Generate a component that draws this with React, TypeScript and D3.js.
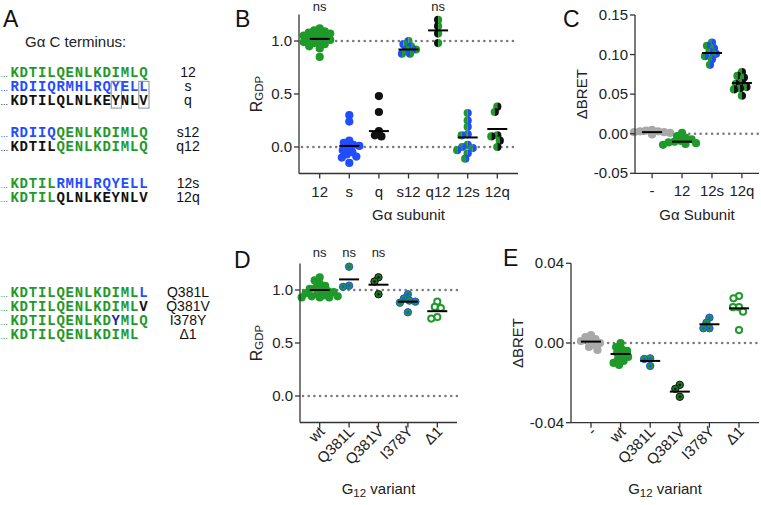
import React from "react";
import * as d3 from "d3";

const GREEN = "#1f9a2a";
const DKGREEN = "#17781f";
const BLUE = "#1f4dff";
const NAVY = "#1a2a9c";
const BLACK = "#111";
const GRAY = "#a8a8a8";
const SANS = "'Liberation Sans', Arial, sans-serif";
const MONO = "'Liberation Mono', 'Courier New', monospace";

// ---- panel A: C-terminal sequences ----
const seqGroups = [
  [
    { label: "12", dots: "g", parts: [["KDTILQENLKDIMLQ", "g"]] },
    { label: "s", dots: "b", parts: [["RDIIQRMHLRQYELL", "b"]] },
    { label: "q", dots: "k", parts: [["KDTILQLNLKEYNLV", "k"]] },
  ],
  [
    { label: "s12", dots: "b", parts: [["RDIIQ", "b"], ["QENLKDIMLQ", "g"]] },
    { label: "q12", dots: "k", parts: [["KDTIL", "k"], ["QENLKDIMLQ", "g"]] },
  ],
  [
    { label: "12s", dots: "g", parts: [["KDTIL", "g"], ["RMHLRQYELL", "b"]] },
    { label: "12q", dots: "g", parts: [["KDTIL", "g"], ["QLNLKEYNLV", "k"]] },
  ],
  [
    { label: "Q381L", dots: "g", parts: [["KDTILQENLKDIML", "g"], ["L", "b"]] },
    { label: "Q381V", dots: "g", parts: [["KDTILQENLKDIML", "g"], ["V", "k"]] },
    { label: "I378Y", dots: "g", parts: [["KDTILQENLKD", "g"], ["Y", "n"], ["MLQ", "g"]] },
    { label: "Δ1", dots: "g", parts: [["KDTILQENLKDIML", "g"]] },
  ],
];
const boxedColumns = [11, 14];
const seqColor: Record<string, string> = { g: GREEN, b: BLUE, k: BLACK, n: NAVY };

// ---- panel B ----
const bCats = ["12", "s", "q", "s12", "q12", "12s", "12q"];
const bValues = [
  [1.12, 1.1, 1.09, 1.08, 1.07, 1.06, 1.05, 1.04, 1.03, 1.02, 1.01, 1.0, 0.99, 0.98, 0.97, 0.95, 0.93, 0.85],
  [0.3, 0.24, 0.06, 0.04, 0.02, 0.01, -0.01, -0.03, -0.05, -0.07, -0.09, -0.1, -0.15],
  [0.48, 0.33, 0.15, 0.11, 0.1],
  [1.0, 0.97, 0.95, 0.92, 0.92, 0.88, 0.88],
  [1.2, 1.14, 1.07, 0.98],
  [0.32, 0.25, 0.19, 0.12, 0.11, 0.02, 0.0, -0.01, -0.03, -0.06, -0.11],
  [0.38, 0.33, 0.11, 0.1, 0.06, 0.0],
];
const bLines = [1.02, 0.01, 0.15, 0.92, 1.1, 0.09, 0.17];
const bNs = ["12", "q12"];
const bTicks = [0, 0.5, 1.0];

// ---- panel C ----
const cCats = ["-", "12", "12s", "12q"];
const cValues = [
  [0.005, 0.004, 0.003, 0.003, 0.002, 0.002, 0.001, 0.001, 0.0, -0.001],
  [0.001, -0.003, -0.005, -0.007, -0.009, -0.01, -0.011, -0.012, -0.013, -0.014],
  [0.115, 0.111, 0.108, 0.103, 0.101, 0.098, 0.094, 0.087],
  [0.078, 0.073, 0.071, 0.064, 0.063, 0.059, 0.057, 0.056, 0.048],
];
const cLines = [0.002, -0.01, 0.102, 0.064];
const cTicks = [-0.05, 0, 0.05, 0.1, 0.15];

// ---- panel D ----
const dCats = ["wt", "Q381L", "Q381V", "I378Y", "Δ1"];
const dValues = [
  [1.12, 1.09, 1.06, 1.04, 1.02, 1.01, 1.0, 0.99, 0.98, 0.97, 0.96, 0.95, 0.94, 0.94, 0.93, 0.93, 0.93],
  [1.22, 1.04, 1.03],
  [1.12, 1.08, 0.96],
  [0.96, 0.92, 0.9, 0.89, 0.88, 0.79],
  [0.89, 0.84, 0.83, 0.745, 0.73],
];
const dLines = [1.0, 1.1, 1.05, 0.89, 0.8];
const dNs = ["wt", "Q381L", "Q381V"];

// ---- panel E ----
const eCats = ["-", "wt", "Q381L", "Q381V", "I378Y", "Δ1"];
const eValues = [
  [0.004, 0.003, 0.002, 0.001, 0.001, 0.0, -0.001, -0.002, -0.0035],
  [0.0, -0.002, -0.003, -0.004, -0.005, -0.006, -0.007, -0.008, -0.009, -0.01, -0.011],
  [-0.0077, -0.008, -0.0115],
  [-0.021, -0.023, -0.027],
  [0.0127, 0.0102, 0.0074, 0.0074],
  [0.0236, 0.0224, 0.018, 0.018, 0.0157, 0.0065],
];
const eLines = [0.0007, -0.0055, -0.009, -0.0244, 0.0094, 0.0174];
const eTicks = [-0.04, 0, 0.04];

type DotStyle = { kind: "solid" | "split" | "ring" | "open"; a: string; b?: string };

const bStyles: DotStyle[] = [
  { kind: "solid", a: GREEN },
  { kind: "solid", a: BLUE },
  { kind: "solid", a: BLACK },
  { kind: "split", a: BLUE, b: GREEN },
  { kind: "split", a: BLACK, b: GREEN },
  { kind: "split", a: GREEN, b: BLUE },
  { kind: "split", a: GREEN, b: BLACK },
];
const cStyles: DotStyle[] = [
  { kind: "solid", a: GRAY },
  { kind: "solid", a: GREEN },
  { kind: "split", a: GREEN, b: BLUE },
  { kind: "split", a: GREEN, b: BLACK },
];
const dStyles: DotStyle[] = [
  { kind: "solid", a: GREEN },
  { kind: "ring", a: GREEN, b: BLUE },
  { kind: "ring", a: DKGREEN, b: BLACK },
  { kind: "ring", a: GREEN, b: BLUE },
  { kind: "open", a: GREEN },
];
const eStyles: DotStyle[] = [{ kind: "solid", a: GRAY }, ...dStyles];

const R = 4.1;
const halfRight = d3.arc()({ innerRadius: 0, outerRadius: R, startAngle: 0, endAngle: Math.PI }) as string;
const halfLeft = d3.arc()({ innerRadius: 0, outerRadius: R, startAngle: Math.PI, endAngle: 2 * Math.PI }) as string;

// deterministic beeswarm offsets (pixel space)
function swarm(ys: number[], minDist: number) {
  const order = ys.map((_, i) => i).sort((a, b) => ys[a] - ys[b]);
  const placed: { x: number; y: number }[] = [];
  const out = new Array(ys.length).fill(0);
  for (const i of order) {
    let best = 0;
    for (let k = 0; k < 80; k++) {
      const dx = (k % 2 === 0 ? 1 : -1) * Math.ceil(k / 2) * 0.5;
      if (placed.every((p) => (p.x - dx) ** 2 + (p.y - ys[i]) ** 2 >= minDist * minDist)) {
        best = dx;
        break;
      }
    }
    placed.push({ x: best, y: ys[i] });
    out[i] = best;
  }
  return out;
}

function Dot({ x, y, s }: { x: number; y: number; s: DotStyle }) {
  const t = `translate(${x},${y})`;
  if (s.kind === "split")
    return (
      <g transform={t}>
        <path d={halfLeft} fill={s.a} />
        <path d={halfRight} fill={s.b} />
      </g>
    );
  if (s.kind === "ring")
    return (
      <g transform={t}>
        <circle r={R - 0.4} fill={s.a} stroke={s.b} strokeWidth={1} />
        <circle r={1.2} fill={s.b} />
      </g>
    );
  if (s.kind === "open")
    return <circle transform={t} r={R - 1} fill="#fff" stroke={s.a} strokeWidth={2} />;
  return <circle transform={t} r={R} fill={s.a} />;
}

type PanelProps = {
  cats: string[];
  values: number[][];
  lines: number[];
  styles: DotStyle[];
  yDomain: [number, number];
  yRange: [number, number];
  xRange: [number, number];
  pad: number;
  ticks: number[];
  digits: number;
  refs: number[];
  rotate?: boolean;
  ns?: string[];
  nsY?: number;
  xTitle: React.ReactNode;
  xTitleY: number;
  yTitle: React.ReactNode;
  yTitleX: number;
};

function Panel(p: PanelProps) {
  const x = d3.scalePoint<string>().domain(p.cats).range(p.xRange).padding(p.pad);
  const y = d3.scaleLinear().domain(p.yDomain).range(p.yRange);
  const [left, right] = p.xRange;
  const bottom = p.yRange[0];
  const top = p.yRange[1];
  const axisColor = "#333";
  return (
    <g fontFamily={SANS}>
      {p.refs.map((v) => (
        <line
          key={v}
          x1={left + 3}
          x2={right}
          y1={y(v)}
          y2={y(v)}
          stroke="#7a7a7a"
          strokeWidth={2.6}
          strokeDasharray="0 5.7"
          strokeLinecap="round"
        />
      ))}
      {p.values.map((vals, ci) => {
        const cx = x(p.cats[ci]) as number;
        const ys = vals.map((v) => y(v));
        const offs = swarm(ys, 5.8);
        return (
          <g key={ci}>
            {vals.map((v, i) => (
              <Dot key={i} x={cx + offs[i]} y={ys[i]} s={p.styles[ci]} />
            ))}
            <line x1={cx - 10} x2={cx + 10} y1={y(p.lines[ci])} y2={y(p.lines[ci])} stroke="#000" strokeWidth={2} />
          </g>
        );
      })}
      {/* axes */}
      <line x1={left} x2={left} y1={top} y2={bottom} stroke={axisColor} strokeWidth={1.3} />
      <line x1={left} x2={right} y1={bottom} y2={bottom} stroke={axisColor} strokeWidth={1.3} />
      {p.ticks.map((t) => (
        <g key={t}>
          <line x1={left - 5} x2={left} y1={y(t)} y2={y(t)} stroke={axisColor} strokeWidth={1.3} />
          <text x={left - 7} y={y(t) + 5} textAnchor="end" fontSize={15} fill="#222">
            {t.toFixed(p.digits)}
          </text>
        </g>
      ))}
      {p.cats.map((c) => {
        const cx = x(c) as number;
        return (
          <g key={c}>
            <line x1={cx} x2={cx} y1={bottom} y2={bottom + 5} stroke={axisColor} strokeWidth={1.3} />
            {p.rotate ? (
              <text
                transform={`translate(${cx + 6},${bottom + 10}) rotate(-45)`}
                textAnchor="end"
                fontSize={15}
                fill="#222"
              >
                {c}
              </text>
            ) : (
              <text x={cx} y={bottom + 23} textAnchor="middle" fontSize={15} fill="#222">
                {c}
              </text>
            )}
          </g>
        );
      })}
      {(p.ns || []).map((c) => (
        <text key={c} x={x(c) as number} y={p.nsY} textAnchor="middle" fontSize={13} fill="#222">
          ns
        </text>
      ))}
      <text x={(left + right) / 2} y={p.xTitleY} textAnchor="middle" fontSize={15} fill="#222">
        {p.xTitle}
      </text>
      <text
        transform={`translate(${p.yTitleX},${(top + bottom) / 2}) rotate(-90)`}
        textAnchor="middle"
        fontSize={15}
        fill="#222"
      >
        {p.yTitle}
      </text>
    </g>
  );
}

const rgdp = (
  <>
    <tspan fontSize={16}>R</tspan>
    <tspan fontSize={11.5} dy={1}>
      GDP
    </tspan>
  </>
);
const g12 = (
  <>
    <tspan>G</tspan>
    <tspan fontSize={11.5} dy={3}>
      12
    </tspan>
    <tspan dy={-3}> variant</tspan>
  </>
);

function PanelA() {
  const groupTops = [77, 137.3, 188.3, 297.3];
  const rowStep = 13.8;
  const x0 = 10;
  const cw = 9.2;
  return (
    <g>
      <text x={25} y={47} fontFamily={SANS} fontSize={15} fill="#222">
        Gα C terminus:
      </text>
      {seqGroups.map((rows, gi) =>
        rows.map((row, ri) => {
          const by = groupTops[gi] + ri * rowStep;
          let col = 0;
          return (
            <g key={`${gi}-${ri}`}>
              <text x={0.5} y={by} fontFamily={SANS} fontSize={9} fill={seqColor[row.dots]}>
                ...
              </text>
              <text y={by} fontFamily={MONO} fontWeight="bold" fontSize={14} textAnchor="middle">
                {row.parts.map(([s, c], pi) => {
                  const xs = s.split("").map((_, i) => (x0 + (col + i + 0.5) * cw).toFixed(1)).join(" ");
                  col += s.length;
                  return (
                    <tspan key={pi} x={xs} fill={seqColor[c]}>
                      {s}
                    </tspan>
                  );
                })}
              </text>
              <text x={188} y={by} textAnchor="middle" fontFamily={SANS} fontSize={14} fill="#111">
                {row.label}
              </text>
            </g>
          );
        })
      )}
      {boxedColumns.map((c) => (
        <rect
          key={c}
          x={x0 + c * cw}
          y={groupTops[0] + rowStep - 9.5}
          width={cw + 1}
          height={rowStep * 2 - 0.8}
          fill="none"
          stroke="#8a8a8a"
          strokeWidth={1}
        />
      ))}
    </g>
  );
}

export default function App() {
  const labelStyle = { fontFamily: SANS, fontSize: 23, fill: "#111" } as const;
  return (
    <svg
      width={761}
      height={505}
      viewBox="0 0 761 505"
      style={{ position: "absolute", left: 0, top: 0, background: "#fff" }}
    >
      <rect width={761} height={505} fill="#fff" />
      <text x={3} y={27} {...labelStyle}>A</text>
      <text x={235} y={27} {...labelStyle}>B</text>
      <text x={563} y={27} {...labelStyle}>C</text>
      <text x={234} y={268} {...labelStyle}>D</text>
      <text x={503} y={266} {...labelStyle}>E</text>
      <PanelA />
      <Panel
        cats={bCats}
        values={bValues}
        lines={bLines}
        styles={bStyles}
        yDomain={[-0.25, 1.25]}
        yRange={[173.5, 14.5]}
        xRange={[299, 518]}
        pad={0.7}
        ticks={bTicks}
        digits={1}
        refs={[0, 1]}
        ns={bNs}
        nsY={11}
        xTitle="Gα subunit"
        xTitleY={220}
        yTitle={rgdp}
        yTitleX={262}
      />
      <Panel
        cats={cCats}
        values={cValues}
        lines={cLines}
        styles={cStyles}
        yDomain={[-0.05, 0.15]}
        yRange={[173.3, 15]}
        xRange={[635, 759]}
        pad={0.57}
        ticks={cTicks}
        digits={2}
        refs={[0]}
        xTitle="Gα Subunit"
        xTitleY={220}
        yTitle="ΔBRET"
        yTitleX={587}
      />
      <Panel
        cats={dCats}
        values={dValues}
        lines={dLines}
        styles={dStyles}
        yDomain={[-0.25, 1.25]}
        yRange={[422.5, 263.5]}
        xRange={[300, 457]}
        pad={0.67}
        ticks={bTicks}
        digits={1}
        refs={[0, 1]}
        rotate
        ns={dNs}
        nsY={257}
        xTitle={g12}
        xTitleY={494}
        yTitle={rgdp}
        yTitleX={262}
      />
      <Panel
        cats={eCats}
        values={eValues}
        lines={eLines}
        styles={eStyles}
        yDomain={[-0.04, 0.04]}
        yRange={[422.7, 263.3]}
        xRange={[571, 759]}
        pad={0.675}
        ticks={eTicks}
        digits={2}
        refs={[0]}
        rotate
        xTitle={g12}
        xTitleY={494}
        yTitle="ΔBRET"
        yTitleX={523}
      />
    </svg>
  );
}
